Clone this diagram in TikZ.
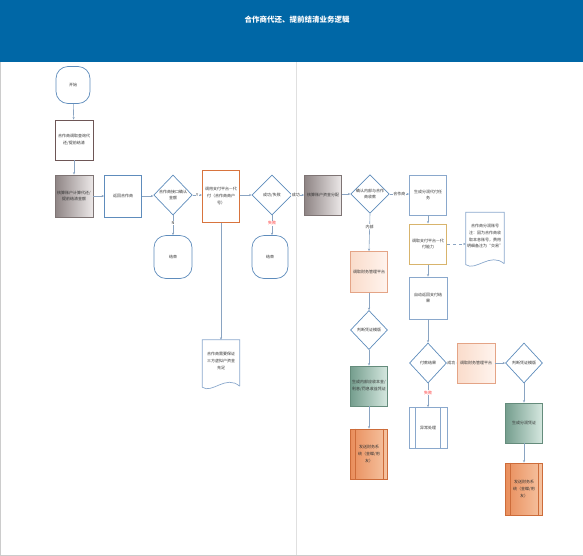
\documentclass[tikz,border=0pt]{standalone}
\usepackage{fontspec}
\newfontfamily\cjk{Noto Sans CJK SC}
\usetikzlibrary{arrows.meta,shapes.geometric,calc}
\definecolor{hdr}{HTML}{0067A6}
\definecolor{ln}{HTML}{8AA4C2}
\definecolor{bblue}{HTML}{8AA8CC}
\definecolor{dblue}{HTML}{5E8CBC}
\definecolor{brownb}{HTML}{6E5656}
\definecolor{graydk}{HTML}{8E8484}
\definecolor{graylt}{HTML}{ECE8E8}
\definecolor{grayb}{HTML}{7E7474}
\definecolor{orgb}{HTML}{D8743E}
\definecolor{yelb}{HTML}{D8B46C}
\definecolor{peachb}{HTML}{E4A486}
\definecolor{peachdk}{HTML}{FADCCB}
\definecolor{peachlt}{HTML}{FFF4EE}
\definecolor{grndk}{HTML}{759E8E}
\definecolor{grnlt}{HTML}{D6E8E0}
\definecolor{grnb}{HTML}{658C7C}
\definecolor{sendk}{HTML}{E98E5C}
\definecolor{senlt}{HTML}{F6C4A2}
\definecolor{senb}{HTML}{CD6C3A}
\definecolor{txt}{HTML}{333333}
\definecolor{redl}{HTML}{FF2A2A}
\begin{document}
\begin{tikzpicture}[x=1pt,y=-1pt,
  base/.style={font=\cjk\fontsize{4}{6.8}\selectfont, text=txt, align=center, inner sep=1pt},
  box/.style={base, draw=bblue, line width=0.7pt, fill=white, minimum width=37pt, minimum height=41pt},
  term/.style={box, rounded corners=12pt, draw=dblue},
  dia/.style={base, shape=diamond, draw=dblue, line width=0.7pt, fill=white, inner sep=0pt, minimum width=38pt, minimum height=40pt},
  graybox/.style={box, draw=grayb, left color=graydk, right color=graylt},
  peach/.style={box, draw=peachb, left color=peachdk, right color=peachlt},
  green/.style={box, draw=grnb, left color=grndk, right color=grnlt},
  sendbox/.style={box, draw=senb, left color=sendk, right color=senlt},
  docnode/.style={base, minimum width=37pt, minimum height=52pt},
  outl/.style={draw=bblue, line width=0.7pt},
  conn/.style={draw=ln, line width=0.6pt, -{Stealth[length=2.6pt,width=2.2pt]}},
  lbl/.style={font=\cjk\fontsize{4}{5}\selectfont, text=txt, fill=white, inner sep=0.6pt},
  rlbl/.style={lbl, text=redl}]
\useasboundingbox (0,0) rectangle (583,555);
% header
\fill[hdr] (0,0) rectangle (583,62);
\node[font=\cjk\bfseries\fontsize{7.5}{9}\selectfont, text=white] (title) at (297,20) {合作商代还、提前结清业务逻辑};
\draw[black!12, line width=0.6pt] (296,62) -- (296,555);
\draw[black!20, line width=0.5pt] (0.25,62) -- (0.25,554.75) -- (582.75,554.75) -- (582.75,62);

% left part
\node[term] (start) at (73,85) [minimum width=34pt, minimum height=37pt] {开始};
\node[box, draw=brownb] (q1) at (74,140) [minimum width=38pt, minimum height=40pt] {合作商调取查询代\\还/提前结清};
\node[graybox] (calc) at (74,196) [minimum width=38pt, minimum height=42pt] {核算账户计算代还/\\提前结清金额};
\node[box, draw=dblue] (ret) at (123,196) [minimum height=42pt] {返回合作商};
\node[dia] (d1) at (173,195) {合作商接口确认\\金额};
\node[term] (end1) at (173,257) [minimum width=38pt, minimum height=43pt] {结束};
\node[box, draw=orgb, line width=1pt] (pay) at (221,196) [minimum height=52pt] {调用支付平台—代\\付（合作商商户\\号）};
\node[dia] (d2) at (272,195) [minimum width=40pt] {成功/失败};
\node[term] (end2) at (270,257) [minimum width=36pt, minimum height=43pt] {结束};
\node[docnode] (doc1) at (221,366) {合作商需要保证\\三方虚拟户资金\\充足\\[4pt]};
\draw[outl] ($(doc1.south east)+(0,-6)$) -- (doc1.north east) -- (doc1.north west) -- ($(doc1.south west)+(0,-5)$)
  .. controls ($(doc1.south west)+(10,2)$) and ($(doc1.south east)+(-14,-18)$) .. ($(doc1.south east)+(0,-6)$);

% right part
\node[graybox] (alloc) at (323,195) [minimum height=40pt] {核算账户资金分配};
\node[dia] (d3) at (370,194) [minimum height=38pt] {确认内部与合作\\商收款};
\node[box, draw=bblue] (task) at (428,195) [minimum height=40pt] {生成分润代付任\\务};
\node[box, draw=yelb, line width=1pt] (cap) at (428,244) [minimum height=40pt] {调取支付平台—代\\付能力};
\node[docnode] (note) at (485,241) [minimum width=38pt, minimum height=57pt] {合作商分润账号\\注：因为合作商收\\取本息账号，费用\\明细备注为“交易”\\[3pt]};
\draw[outl] ($(note.south east)+(0,-6)$) -- (note.north east) -- (note.north west) -- ($(note.south west)+(0,-5)$)
  .. controls ($(note.south west)+(10,2)$) and ($(note.south east)+(-14,-18)$) .. ($(note.south east)+(0,-6)$);
\node[peach] (fin1) at (369,272) {调取财务管理平台};
\node[box, draw=bblue] (auto) at (428,298) [minimum width=38pt, minimum height=42pt] {自动返回支付结\\果};
\node[dia] (j1) at (369,330) [minimum width=37pt, minimum height=39pt] {判断凭证模版};
\node[green] (gen1) at (369,386) [minimum height=40pt] {生成内部应收本金/\\利息/罚息收益凭证};
\node[sendbox] (send1) at (369,454) [minimum height=50pt] {发送财务系\\统（金蝶/用\\友）};
\draw[senb, line width=0.5pt] ($(send1.north west)+(5,0)$) -- ($(send1.south west)+(5,0)$)
  ($(send1.north east)+(-5,0)$) -- ($(send1.south east)+(-5,0)$);
\node[dia] (d4) at (428,363) [minimum width=37pt] {付款结果};
\node[peach] (fin2) at (476,363) [minimum width=38pt, minimum height=40pt] {调取财务管理平台};
\node[dia] (j2) at (524,363) [minimum width=37pt] {判断凭证模版};
\node[box, draw=bblue] (exc) at (428,428) [minimum width=38pt] {异常处理};
\draw[bblue, line width=0.6pt] ($(exc.north west)+(7,0)$) -- ($(exc.south west)+(7,0)$)
  ($(exc.north east)+(-7,0)$) -- ($(exc.south east)+(-7,0)$);
\node[green] (gen2) at (524,423) [minimum height=40pt] {生成分润凭证};
\node[sendbox] (send2) at (524,489) [minimum height=52pt] {发送财务系\\统（金蝶/用\\友）};
\draw[senb, line width=0.5pt] ($(send2.north west)+(5,0)$) -- ($(send2.south west)+(5,0)$)
  ($(send2.north east)+(-5,0)$) -- ($(send2.south east)+(-5,0)$);

% connectors
\draw[conn] (start) -- (q1);
\draw[conn] (q1) -- (calc);
\draw[conn] (calc.east) -- (ret.west |- calc.east);
\draw[conn] (ret.east) -- (d1.west |- ret.east);
\draw[conn] (d1.east) -- node[lbl] {Y} (pay.west |- d1.east);
\draw[conn] (d1.south) -- node[lbl, pos=0.4] {N} (end1.north);
\draw[conn] (pay.east |- d2.west) -- (d2.west);
\draw[conn] (d2.south) -- node[rlbl, pos=0.4] {失败} (end2.north -| d2.south);
\draw[conn] (d2.east) -- node[lbl, pos=0.3] {成功} (alloc.west |- d2.east);
\draw[conn] (pay.south) -- (doc1.north);
\draw[conn] (alloc.east |- d3.west) -- (d3.west);
\draw[conn] (d3.east) -- node[lbl] {合作商} (task.west |- d3.east);
\draw[conn] (d3.south) -- node[lbl, pos=0.35] {内部} (fin1.north);
\draw[conn] (fin1) -- (j1);
\draw[conn] (j1) -- (gen1);
\draw[conn] (gen1) -- (send1);
\draw[conn] (task) -- (cap);
\draw[conn, dashed] (cap.east) -- (note.west |- cap.east);
\draw[conn] (cap) -- (auto);
\draw[conn] (auto) -- (d4);
\draw[conn] (d4.east) -- node[lbl, pos=0.45] {成功} (fin2.west);
\draw[conn] (d4.south) -- node[rlbl, pos=0.4] {失败} (exc.north);
\draw[conn] (fin2.east) -- (j2.west);
\draw[conn] (j2) -- (gen2);
\draw[conn] (gen2) -- (send2);
\end{tikzpicture}
\end{document}
